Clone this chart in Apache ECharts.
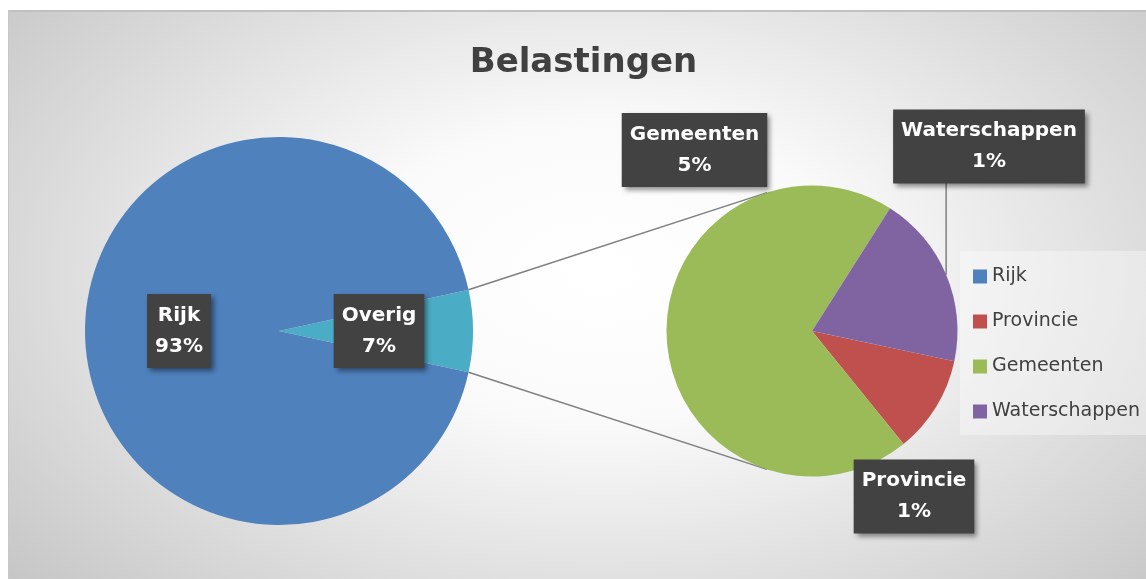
<!DOCTYPE html>
<html>
<head>
<meta charset="utf-8">
<title>Belastingen</title>
<script src="https://cdn.jsdelivr.net/npm/echarts@6/dist/echarts.min.js"></script>
<style>
  html, body { margin: 0; padding: 0; background: #fff; width: 1146px; height: 579px; overflow: hidden; }
  #bg {
    position: absolute; left: 8px; top: 10px; width: 1138px; height: 569px;
    box-sizing: border-box; border-top: 2px solid #c0c0c0; border-left: 1px solid #c8c8c8;
    background: radial-gradient(ellipse 72% 88% at 52% 46%, #ffffff 0%, #fafafa 30%, #c2c2c2 100%);
  }
  #main { position: absolute; left: 0; top: 0; width: 1146px; height: 579px; }
</style>
</head>
<body>
<div id="bg"></div>
<div id="main"></div>
<script>
// waarden (procent van totaal)
var rijkValue = 93.17;
var subNames = ['Provincie', 'Gemeenten', 'Waterschappen'];
var subValues = [0.74, 4.77, 1.32];
var legendNames = ['Rijk', 'Provincie', 'Gemeenten', 'Waterschappen'];

var colors = {
  Rijk: '#4F81BD',
  Overig: '#4BACC6',
  Provincie: '#C0504D',
  Gemeenten: '#9BBB59',
  Waterschappen: '#8064A2'
};

var overigValue = subValues.reduce(function (a, b) { return a + b; }, 0);
var total = rijkValue + overigValue;

var fontName = 'DejaVu Sans';

// layout
var pieL = { cx: 279, cy: 331, r: 194 };
var pieR = { cx: 812, cy: 331, r: 145.5 };
var subStart = 348;      // startAngle tweede taart
var linkAngle = 108;     // waar de verbindingslijnen de tweede taart raken
var labelPos = {
  Gemeenten: [694.5, 150],
  Waterschappen: [989, 146.5],
  Provincie: [914, 496.5]
};

var labelBox = {
  color: '#fff',
  fontFamily: fontName,
  fontWeight: 'bold',
  fontSize: 20,
  lineHeight: 31,
  padding: [6, 8, 6, 8],
  backgroundColor: '#424242',
  shadowColor: 'rgba(0,0,0,0.45)',
  shadowBlur: 5,
  shadowOffsetX: 3,
  shadowOffsetY: 3,
  formatter: function (p) {
    return p.name + '\n' + Math.round(p.value / total * 100) + '%';
  }
};

var halfL = overigValue / total * Math.PI;
var la = linkAngle * Math.PI / 180;
var pL1 = [pieL.cx + pieL.r * Math.cos(halfL), pieL.cy - pieL.r * Math.sin(halfL)];
var pL2 = [pieL.cx + pieL.r * Math.cos(halfL), pieL.cy + pieL.r * Math.sin(halfL)];
var pR1 = [pieR.cx + pieR.r * Math.cos(la), pieR.cy - pieR.r * Math.sin(la)];
var pR2 = [pieR.cx + pieR.r * Math.cos(la), pieR.cy + pieR.r * Math.sin(la)];

// middenhoek Waterschappen voor de verwijslijn
var before = subValues[0] + subValues[1] + subValues[2] / 2;
var midW = (subStart - before / overigValue * 360) * Math.PI / 180;
var anchorW = [pieR.cx + pieR.r * Math.cos(midW), pieR.cy - pieR.r * Math.sin(midW)];

var myChart = echarts.init(document.getElementById('main'));
myChart.setOption({
  animation: false,
  backgroundColor: 'transparent',
  legend: {
    orient: 'vertical',
    left: 960,
    top: 251,
    padding: [16, 200, 14, 13],
    backgroundColor: 'rgba(255,255,255,0.35)',
    icon: 'rect',
    itemWidth: 14,
    itemHeight: 14,
    itemGap: 26,
    data: legendNames,
    textStyle: { color: '#404040', fontFamily: fontName, fontSize: 19, lineHeight: 14 }
  },
  graphic: [
    {
      type: 'text', x: 583.5, y: 63,
      style: {
        text: 'Belastingen', fill: '#404040', font: 'bold 34px "DejaVu Sans"',
        textAlign: 'center', textVerticalAlign: 'middle'
      }
    },
    { type: 'line', shape: { x1: pL1[0], y1: pL1[1], x2: pR1[0], y2: pR1[1] }, style: { stroke: '#7f7f7f', lineWidth: 1.5 } },
    { type: 'line', shape: { x1: pL2[0], y1: pL2[1], x2: pR2[0], y2: pR2[1] }, style: { stroke: '#7f7f7f', lineWidth: 1.5 } },
    {
      type: 'line', z: 1,
      shape: { x1: anchorW[0], y1: anchorW[1], x2: anchorW[0], y2: labelPos.Waterschappen[1] + 36 },
      style: { stroke: '#7f7f7f', lineWidth: 1.5 }
    }
  ],
  series: [
    {
      type: 'pie',
      center: [pieL.cx, pieL.cy],
      radius: pieL.r,
      startAngle: halfL * 180 / Math.PI,
      clockwise: true,
      silent: true,
      data: [
        { name: 'Overig', value: overigValue, itemStyle: { color: colors.Overig } },
        { name: 'Rijk', value: rijkValue, itemStyle: { color: colors.Rijk } }
      ],
      label: Object.assign({ position: 'inside' }, labelBox),
      labelLine: { show: false }
    },
    {
      type: 'pie',
      center: [pieR.cx, pieR.cy],
      radius: pieR.r,
      startAngle: subStart,
      clockwise: true,
      silent: true,
      avoidLabelOverlap: false,
      data: subNames.map(function (n, i) {
        return { name: n, value: subValues[i], itemStyle: { color: colors[n] } };
      }),
      label: Object.assign({ position: 'outside' }, labelBox),
      labelLine: { show: false },
      labelLayout: function (params) {
        var p = labelPos[subNames[params.dataIndex]];
        return { x: p[0], y: p[1], align: 'center', verticalAlign: 'middle' };
      }
    }
  ]
});
</script>
</body>
</html>
